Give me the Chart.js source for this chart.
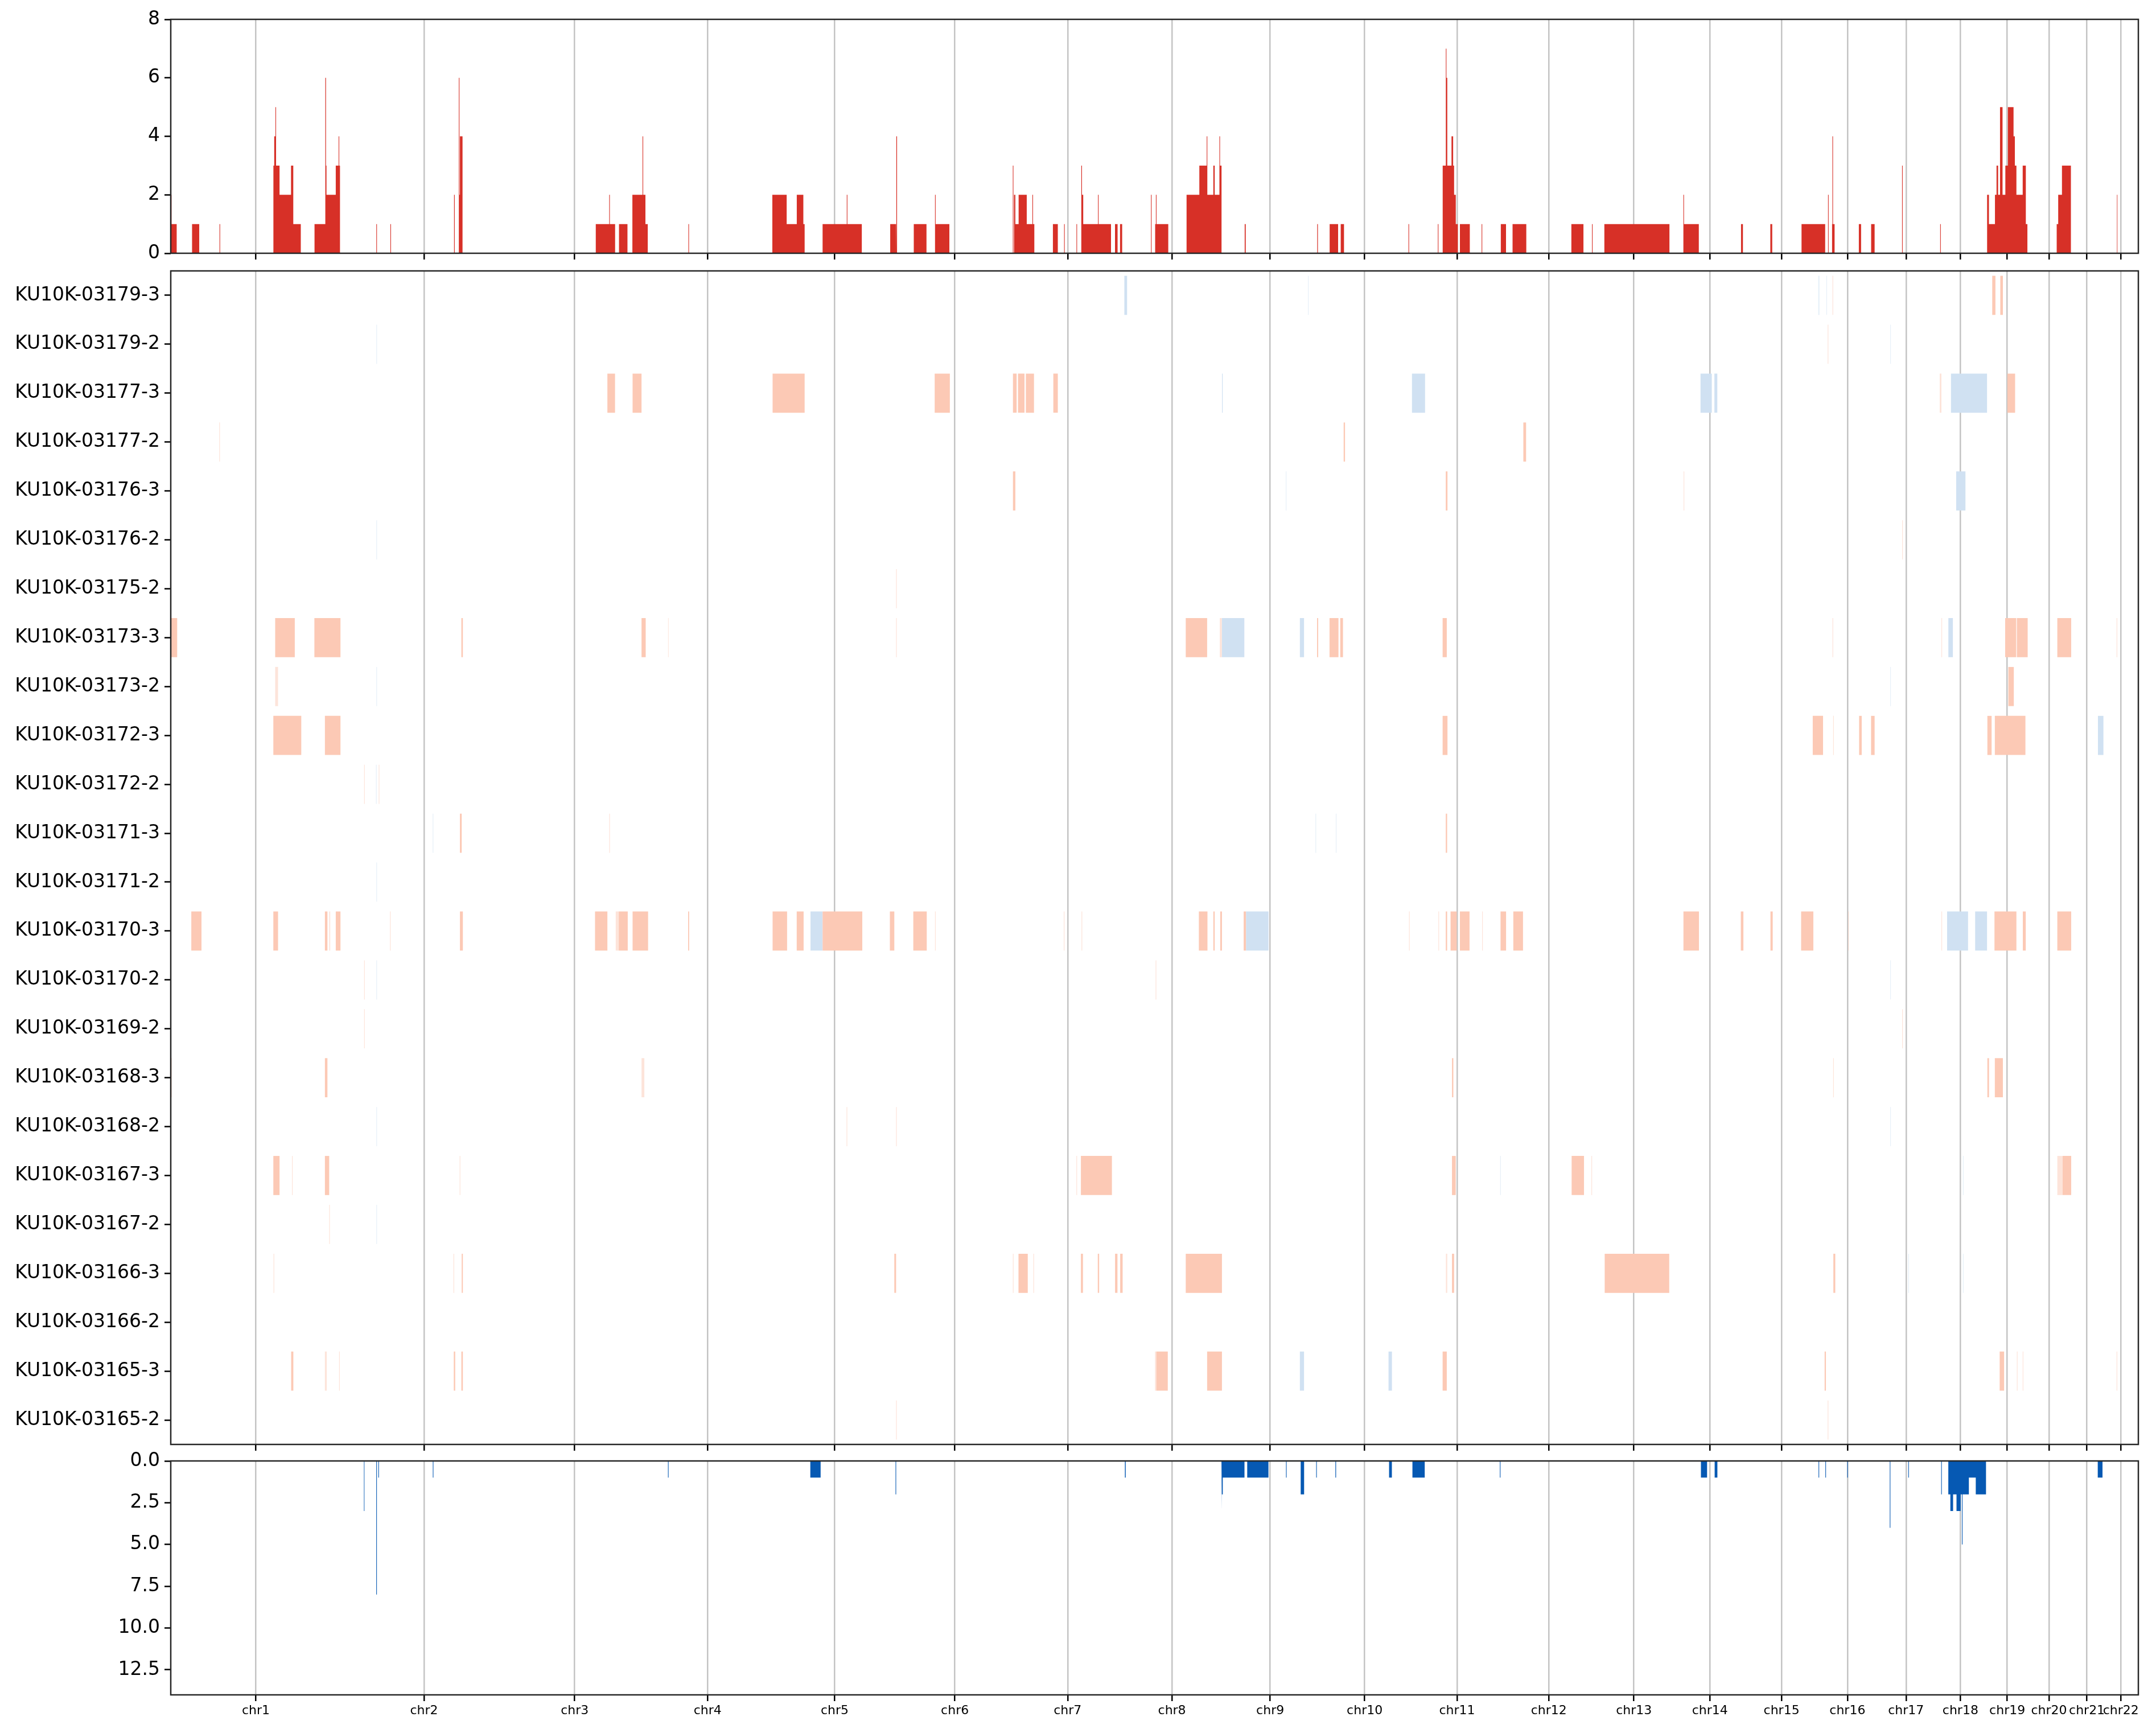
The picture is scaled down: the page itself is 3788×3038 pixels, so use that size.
<html>
<head>
<meta charset="utf-8">
<title>CNV overview</title>
<script src="https://cdn.jsdelivr.net/npm/chart.js"></script>
<style>
  body { margin: 0; background: #fff; }
  canvas { position: absolute; left: 0; }
</style>
</head>
<body>
<canvas id="top" width="3788" height="460" style="top:0px"></canvas>
<canvas id="heat" width="3788" height="2090" style="top:460px"></canvas>
<canvas id="bot" width="3788" height="488" style="top:2550px"></canvas>
<script>
// chromosome sizes (Mb), autosomes only
const chrNames = ['chr1','chr2','chr3','chr4','chr5','chr6','chr7','chr8','chr9','chr10','chr11',
  'chr12','chr13','chr14','chr15','chr16','chr17','chr18','chr19','chr20','chr21','chr22'];
const chrLengths = [249.25,243.2,198.0,191.15,180.9,171.1,159.1,146.4,141.2,135.5,135.0,
  133.85,115.2,107.35,102.5,90.35,81.2,78.1,59.1,63.0,48.1,51.3];

// sample rows, top to bottom
const samples = ['KU10K-03179-3','KU10K-03179-2','KU10K-03177-3','KU10K-03177-2','KU10K-03176-3',
  'KU10K-03176-2','KU10K-03175-2','KU10K-03173-3','KU10K-03173-2','KU10K-03172-3','KU10K-03172-2',
  'KU10K-03171-3','KU10K-03171-2','KU10K-03170-3','KU10K-03170-2','KU10K-03169-2','KU10K-03168-3',
  'KU10K-03168-2','KU10K-03167-3','KU10K-03167-2','KU10K-03166-3','KU10K-03166-2','KU10K-03165-3',
  'KU10K-03165-2'];

// gain count along genome: [start Mb, end Mb, count]
const gainSegs = [
  [0,0.3,1],[0.3,1.1,2],[1.1,8.7,1],[31.2,41.7,1],[71.4,72.3,1],
  [150.3,151.5,3],[151.5,153.3,4],[153.3,154.2,5],[154.2,159.3,3],[159.3,176.1,2],[176.1,179.4,3],[179.4,190.4,1],
  [210.5,226.3,1],[226.3,227.3,6],[227.3,228.0,3],[228.0,241.6,2],[241.6,245.8,3],[245.8,246.7,4],[246.7,247.8,3],
  [301.0,301.9,1],[321.6,322.5,1],
  [414.8,415.8,2],[421.8,422.7,6],[422.7,423.4,2],[423.4,427.2,4],
  [622.3,642.0,1],[642.0,642.9,2],[642.9,650.6,1],[656.3,668.7,1],
  [675.9,690.8,2],[690.8,691.7,4],[691.7,695.0,2],[695.0,698.4,1],
  [757.9,758.8,1],
  [880.8,901.8,2],[901.8,916.6,1],[916.6,926.2,2],[926.2,928.1,1],
  [954.4,989.8,1],[989.8,990.7,2],[990.7,1011.8,1],
  [1053.4,1062.0,1],[1062.5,1063.4,4],[1087.9,1106.5,1],
  [1119.0,1119.9,2],[1119.9,1140.0,1],
  [1232.9,1233.8,3],[1234.7,1236.6,2],[1236.6,1241.4,1],[1241.4,1253.3,2],[1253.3,1261.6,1],[1261.6,1262.5,2],[1262.5,1264.4,1],
  [1291.6,1298.8,1],[1308.0,1308.9,1],[1326.1,1327.0,1],
  [1332.7,1333.3,1],[1333.3,1334.2,3],[1334.2,1336.0,2],[1336.0,1357.6,1],[1357.6,1358.5,2],[1358.5,1376.7,1],
  [1382.5,1386.3,1],[1389.9,1393.0,1],[1435.2,1436.1,2],
  [1441.3,1442.4,1],[1442.4,1443.3,2],[1443.3,1460.5,1],
  [1487.3,1506,2],[1506,1516.8,3],[1516.8,1517.7,4],[1517.7,1526.5,2],[1526.5,1528.5,3],[1528.5,1535.4,2],[1535.4,1536.3,4],[1536.3,1538.5,3],
  [1572.4,1573.9,1],[1678.6,1679.6,1],[1696.8,1709.2,1],[1713,1717.8,1],
  [1812.2,1813.1,1],[1855.2,1856.1,1],
  [1862.3,1866.9,3],[1866.9,1867.8,7],[1867.8,1869,6],[1869,1875.2,3],[1875.2,1877.6,4],[1877.6,1879,3],[1879,1881.5,2],[1881.5,1884.5,1],[1887.5,1902,1],
  [1919.3,1920.2,1],[1947.4,1955,1],[1964.6,1984.7,1],
  [2050.7,2068.4,1],[2080.9,2081.8,1],[2099,2194.3,1],
  [2214.7,2215.6,2],[2215.6,2237.3,1],[2299.1,2301.9,1],[2342,2344.8,1],
  [2387.7,2422.3,1],[2426.5,2427.4,2],[2432.4,2432.9,1],[2432.9,2433.8,4],[2433.8,2436.1,1],
  [2471.6,2474.9,1],[2489.6,2494.7,1],[2534.9,2535.8,3],[2590.7,2591.6,1],
  [2659.4,2662.1,2],[2662.1,2670.9,1],[2670.9,2673.2,2],[2673.2,2675.5,3],[2675.5,2678.3,2],[2678.3,2682,5],[2682,2686.1,2],
  [2686.1,2689.8,3],[2689.8,2698.1,5],[2698.1,2700,4],[2700,2702.3,3],[2702.3,2711.5,2],[2711.5,2716.1,3],[2716.1,2718.4,1],
  [2761.3,2763.5,1],[2763.5,2769,2],[2769,2782.1,3],[2849.5,2850.4,2]
];

// loss count along genome: [start Mb, end Mb, count]
const lossSegs = [
  [282.7,283.6,3],[300.9,301.8,8],[303.9,304.8,1],[383.7,384.6,1],[728.0,728.9,1],
  [936.4,951.5,1],[1061.2,1062.1,2],[1397,1398.2,1],
  [1538.4,1539.1,3],[1539.1,1540.3,2],[1540.3,1572.1,1],[1576.1,1607.2,1],
  [1632.9,1633.8,1],[1654.4,1659.4,2],[1677.1,1678.0,1],[1705.2,1706.2,1],
  [1783.8,1787.9,1],[1818,1836,1],[1946.0,1946.9,1],
  [2240.4,2249.4,1],[2260.5,2264.5,1],
  [2412.6,2413.5,1],[2422.6,2423.5,1],[2454.6,2455.5,1],[2516.9,2517.8,4],[2544.0,2544.9,1],[2592.2,2593.1,2],
  [2602.6,2605.6,2],[2605.6,2609.6,3],[2609.6,2614.6,2],[2614.6,2620.7,3],[2620.7,2622.5,2],[2622.5,2623.4,5],
  [2623.4,2632.7,2],[2632.7,2642.8,1],[2642.8,2657.8,2],
  [2821.4,2828.4,1]
];

// per sample segments: [start Mb, end Mb, kind]  G gain, L loss, g/l weak
const sampleSegs = [
  [[1396.2,1400.2,'L'],[1665,1666,'l'],[2412.1,2414,'l'],[2424,2425,'l'],[2433,2434,'g'],[2666.9,2671.6,'G'],[2678.7,2682.5,'G']],
  [[301,302,'l'],[2426,2427,'g'],[2517.5,2518.5,'l']],
  [[639.3,650.5,'G'],[676.2,689.3,'G'],[881.2,928.1,'G'],[1118.5,1140.7,'G'],[1233.1,1238.5,'G'],[1240.5,1250,'G'],[1252,1263.9,'G'],
   [1292.2,1298.8,'G'],[1539.2,1540.2,'L'],[1817.3,1836.5,'L'],[2239.8,2256.3,'L'],[2260.1,2264.4,'L'],[2590,2592.5,'g'],
   [2606.5,2659.3,'L'],[2689.1,2700.4,'G']],
  [[71,72,'g'],[1717.3,1719.3,'G'],[1980.4,1984.4,'G']],
  [[1233.1,1236.6,'G'],[1632.5,1633.5,'l'],[1866.8,1869.3,'G'],[2215,2216,'g'],[2614.1,2627.7,'L']],
  [[301,302,'l'],[2535,2536,'g']],
  [[1062,1063,'g']],
  [[0,9.4,'G'],[152.9,181.6,'G'],[210.3,248.5,'G'],[425.5,427.7,'G'],[689.3,695.4,'G'],[728.2,729,'g'],[1062,1063,'g'],
   [1486.1,1517.4,'G'],[1536,1539,'g'],[1539.1,1571.9,'L'],[1653.2,1659.3,'L'],[1678.4,1680,'G'],[1696.6,1709.7,'G'],
   [1712.3,1716.3,'G'],[1862.2,1868.3,'G'],[2433,2434,'g'],[2592.5,2593.5,'g'],[2602.7,2609.3,'L'],[2685.8,2702,'G'],
   [2703,2718.8,'G'],[2762.2,2782.5,'G'],[2849,2850,'g']],
  [[152.9,157.1,'g'],[301,302,'l'],[2517.5,2518.5,'l'],[2690.5,2698.5,'G']],
  [[150.2,191.1,'G'],[225.7,248.5,'G'],[1862.2,1869.3,'G'],[2404.1,2419.2,'G'],[2434,2435,'g'],[2472,2475.8,'G'],
   [2489.5,2494.7,'G'],[2659.8,2666,'G'],[2670.7,2715.5,'G'],[2821.7,2829.7,'L']],
  [[283.1,284.1,'g'],[300.5,301.5,'l'],[304.5,305.5,'g']],
  [[383.5,384.5,'l'],[423.4,426,'G'],[642,643,'g'],[1676,1677,'l'],[1705.8,1706.8,'l'],[1866.8,1868.8,'G']],
  [[301,302,'l']],
  [[30.1,45,'G'],[150.2,157.1,'G'],[225.7,229.4,'G'],[232,233.5,'g'],[241.6,248.5,'G'],[321,322,'g'],[423.4,427.7,'G'],
   [621.2,639.3,'G'],[651.5,656,'g'],[656,669.1,'G'],[676.2,698.9,'G'],[757.5,759,'G'],[881.2,902.4,'G'],[916.5,926.6,'G'],
   [936.7,954.4,'L'],[954.4,1012.5,'G'],[1052.9,1059.4,'G'],[1087.2,1106.9,'G'],[1119,1120,'g'],[1307.5,1308.5,'g'],
   [1333.5,1334.5,'g'],[1505.3,1517.9,'G'],[1526.5,1528.5,'G'],[1536.6,1539.1,'G'],[1570.9,1574.4,'G'],[1574.4,1607.3,'L'],
   [1813,1814,'g'],[1856,1857,'g'],[1866.8,1868.8,'G'],[1873.8,1882.9,'G'],[1887.5,1901.6,'G'],[1920,1921,'g'],
   [1947,1955.1,'G'],[1965.7,1979.9,'G'],[2214.8,2237.5,'G'],[2298.8,2302.6,'G'],[2342.2,2345.5,'G'],[2387.1,2405,'G'],
   [2456,2457,'g'],[2592.5,2593.5,'g'],[2600.8,2631.5,'L'],[2641.9,2659.3,'L'],[2670.2,2702.3,'G'],[2711.7,2716,'G'],
   [2762.2,2782.5,'G']],
  [[283.1,284.1,'g'],[301,302,'l'],[1442,1443,'g'],[2517.5,2518.5,'l']],
  [[283.1,284.1,'g'],[2535,2536,'g']],
  [[0,1.5,'g'],[225.7,229.4,'G'],[689.3,693.4,'g'],[1875.9,1877.9,'G'],[2434,2435,'g'],[2659.8,2662.2,'G'],[2670.7,2682.5,'G']],
  [[301,302,'l'],[989.5,990.5,'g'],[1062,1063,'g'],[2517.5,2518.5,'l']],
  [[150.2,159.3,'G'],[177.5,178.5,'g'],[225.7,232,'G'],[423,424,'g'],[1326,1327,'g'],[1332.6,1378,'G'],[1875.9,1881.4,'G'],
   [1946.5,1947.5,'l'],[2051.1,2069.2,'G'],[2080,2081,'g'],[2624,2625,'l'],[2762.2,2770,'g'],[2770,2782.5,'G']],
  [[232,233,'g'],[301,302,'l']],
  [[150.5,151.5,'g'],[414,415,'g'],[426,427.7,'G'],[1059.4,1062,'G'],[1233,1234,'g'],[1241.2,1254.8,'G'],[1263,1264,'g'],
   [1332.6,1335.6,'G'],[1357.3,1359.3,'G'],[1382.6,1386.1,'G'],[1390.1,1393.7,'G'],[1486.1,1539.1,'G'],[1867,1869,'g'],
   [1875.9,1879,'G'],[2099.5,2194,'G'],[2434.3,2437.1,'G'],[2544,2545,'l'],[2624,2625,'l']],
  [],
  [[176.3,179.5,'G'],[225.7,228.4,'g'],[246.5,247.5,'g'],[414.4,416.5,'G'],[425.5,427.7,'G'],[1441.1,1443,'g'],
   [1443,1459.8,'G'],[1517.4,1539.1,'G'],[1653.2,1659.3,'L'],[1783,1788,'L'],[1862.2,1868.3,'G'],[2421.5,2423.4,'G'],
   [2677.8,2684.3,'G'],[2703,2704,'g'],[2711.5,2712.5,'g'],[2849,2850,'g']],
  [[1062,1063,'g'],[2426,2427,'g']]
];

// genome axis from chromosome sizes
const genomeLen = chrLengths.reduce((a, b) => a + b, 0);
const chrCenters = [];
let acc = 0;
chrLengths.forEach(l => { chrCenters.push(acc + l / 2); acc += l; });

const segColors = {G: '#fcc9b5', L: '#d0e1f2', g: 'rgba(252,201,181,0.5)', l: 'rgba(208,225,242,0.5)'};

Chart.defaults.font.family = 'DejaVu Sans';
Chart.defaults.font.size = 33;
Chart.defaults.color = '#000';
Chart.defaults.animation = false;

function stepPoints(segs) {
  const pts = [];
  segs.forEach(s => {
    pts.push({x: s[0], y: 0}, {x: s[0], y: s[2]}, {x: s[1], y: s[2]}, {x: s[1], y: 0});
  });
  return pts;
}

// draw the four spines like matplotlib
const frame = {
  id: 'frame',
  afterDraw(chart) {
    const a = chart.chartArea;
    const ctx = chart.ctx;
    ctx.save();
    ctx.strokeStyle = '#262626';
    ctx.lineWidth = 2.5;
    ctx.strokeRect(a.left, a.top, a.right - a.left, a.bottom - a.top);
    ctx.restore();
  }
};

function genomeAxis(h, showLabels) {
  return {
    type: 'linear', min: 0, max: genomeLen, z: 1,
    afterBuildTicks: s => { s.ticks = chrCenters.map(v => ({value: v})); },
    ticks: {
      display: showLabels, autoSkip: false, maxRotation: 0, minRotation: 0, padding: 4,
      font: {size: 22},
      callback: v => chrNames[chrCenters.indexOf(v)]
    },
    grid: {color: '#c4c4c4', lineWidth: 2.5, tickColor: '#000', tickWidth: 2.5, tickLength: 11},
    border: {display: false},
    afterFit: s => { s.height = h; s.paddingLeft = 0; s.paddingRight = 0; }
  };
}

function leftAxis(extra) {
  return Object.assign({
    grid: {drawOnChartArea: false, tickColor: '#000', tickWidth: 2.5, tickLength: 11},
    border: {display: false},
    afterFit: s => { s.width = 300; s.paddingTop = 0; s.paddingBottom = 0; }
  }, extra);
}

const noPlugins = {legend: {display: false}, tooltip: {enabled: false}};

// gains panel
new Chart(document.getElementById('top'), {
  type: 'line',
  data: {datasets: [{
    data: stepPoints(gainSegs), parsing: false,
    backgroundColor: 'rgb(215,48,39)', borderColor: 'rgba(0,0,0,0)', borderWidth: 0,
    pointRadius: 0, fill: 'origin'
  }]},
  options: {
    responsive: false,
    layout: {padding: {top: 34, right: 31, bottom: 0, left: 0}},
    plugins: noPlugins,
    scales: {
      x: genomeAxis(15, false),
      y: leftAxis({min: 0, max: 8, ticks: {stepSize: 2, padding: 8}})
    }
  },
  plugins: [frame]
});

// per sample panel
const heatData = [];
samples.forEach((name, i) => {
  sampleSegs[i].forEach(s => heatData.push({x: [s[0], s[1]], y: name, t: s[2]}));
});

new Chart(document.getElementById('heat'), {
  type: 'bar',
  data: {labels: samples, datasets: [{
    data: heatData,
    backgroundColor: c => segColors[c.raw.t],
    borderWidth: 0, borderSkipped: false,
    categoryPercentage: 0.8, barPercentage: 1.0
  }]},
  options: {
    indexAxis: 'y',
    responsive: false,
    layout: {padding: {top: 16, right: 31, bottom: 0, left: 0}},
    plugins: noPlugins,
    scales: {
      x: genomeAxis(12, false),
      y: leftAxis({type: 'category', offset: true, ticks: {padding: 8, autoSkip: false},
        grid: {drawOnChartArea: false, offset: false, tickColor: '#000', tickWidth: 2.5, tickLength: 11}})
    }
  },
  plugins: [frame]
});

// losses panel (inverted)
new Chart(document.getElementById('bot'), {
  type: 'line',
  data: {datasets: [{
    data: stepPoints(lossSegs), parsing: false,
    backgroundColor: '#0659b3', borderColor: 'rgba(0,0,0,0)', borderWidth: 0,
    pointRadius: 0, fill: 'origin'
  }]},
  options: {
    responsive: false,
    layout: {padding: {top: 17, right: 31, bottom: 0, left: 0}},
    plugins: noPlugins,
    scales: {
      x: genomeAxis(60, true),
      y: leftAxis({min: 0, max: 14, reverse: true,
        afterBuildTicks: s => { s.ticks = [0, 2.5, 5, 7.5, 10, 12.5].map(v => ({value: v})); },
        ticks: {padding: 8, callback: v => v.toFixed(1)}})
    }
  },
  plugins: [frame]
});
</script>
</body>
</html>
